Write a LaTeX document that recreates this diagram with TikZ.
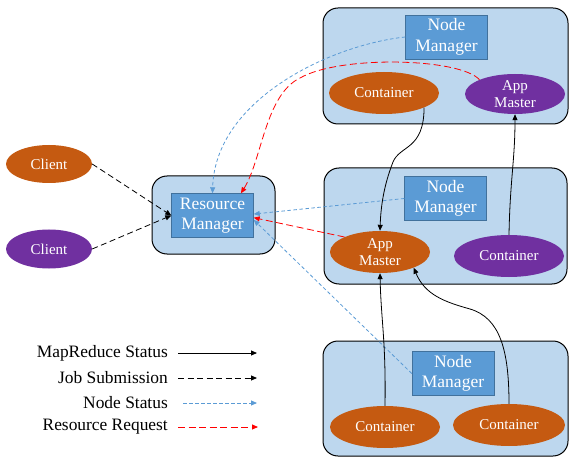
\documentclass[tikz,border=0pt]{standalone}
\usepackage{fontspec}
\setmainfont{Liberation Serif}
\usetikzlibrary{shapes.geometric,arrows.meta}
\definecolor{boxblue}{HTML}{BDD7EE}
\definecolor{nmblue}{HTML}{5B9BD5}
\definecolor{nmedge}{HTML}{41719C}
\definecolor{orangec}{HTML}{C55A11}
\definecolor{purplec}{HTML}{7030A0}

\begin{document}
\begin{tikzpicture}[x=1pt, y=-1pt]
\tikzstyle{group}=[draw, fill=boxblue, rounded corners=15pt, line width=1pt]
\tikzstyle{mgr}=[draw=nmedge, fill=nmblue, text=white, align=center,
                 font=\fontsize{17.5}{20.5}\selectfont, inner sep=0pt,
                 minimum width=82pt, minimum height=44pt]
\tikzstyle{job}=[ellipse, text=white, align=center, inner sep=0pt,
                 font=\fontsize{15}{17}\selectfont,
                 minimum width=110pt, minimum height=42pt]
\tikzstyle{orng}=[job, fill=orangec]
\tikzstyle{purp}=[job, fill=purplec]
\tikzstyle{legend}=[anchor=east, inner sep=0pt, font=\fontsize{17.4}{20}\selectfont]
\tikzstyle{mr}=[-{Triangle[length=6pt,width=5pt]}, line width=0.8pt]
\tikzstyle{js}=[mr, dash pattern=on 6pt off 3.5pt]
\tikzstyle{ns}=[mr, nmblue, dash pattern=on 3.5pt off 2.5pt]
\tikzstyle{rr}=[mr, red, dash pattern=on 7pt off 3.5pt]
\useasboundingbox (0,0) rectangle (575,462);

% group boxes
\node[group, minimum width=245pt, minimum height=116pt] (g1) at (445.5,66) {};
\node[group, minimum width=243pt, minimum height=116pt] (g2) at (445.5,226) {};
\node[group, minimum width=245pt, minimum height=115pt] (g3) at (445.5,398.5) {};
\node[group, minimum width=123pt, minimum height=78pt] (g0) at (213.5,215) {};

\node[mgr] (rm) at (212.5,215.5) {Resource\\Manager};
\node[mgr] (nm1) at (446.5,37) {Node\\Manager};
\node[mgr] (nm2) at (445.5,198.5) {Node\\Manager};
\node[mgr] (nm3) at (453,373.5) {Node\\Manager};

\node[orng, minimum width=86pt, minimum height=38pt] (cl1) at (49,164) {Client};
\node[purp, minimum width=86pt, minimum height=39pt] (cl2) at (49,249) {Client};
\node[orng] (c1) at (384,93) {Container};
\node[purp, minimum width=100pt, minimum height=40pt] (am1) at (515,94) {App\\Master};
\node[orng, minimum width=100pt] (am2) at (380,252) {App\\Master};
\node[purp] (c2) at (509,256) {Container};
\node[orng] (c3) at (385,427) {Container};
\node[orng, minimum width=112pt] (c4) at (509,425) {Container};

% legend
\node[legend] (l1) at (168,353) {MapReduce Status};
\node[legend] (l2) at (168,378) {Job Submission};
\node[legend] (l3) at (168,403) {Node Status};
\node[legend] (l4) at (168,427) {Resource Request};
\coordinate (l1a) at (178,353); \coordinate (l1b) at (257,353);
\coordinate (l2a) at (178,378); \coordinate (l2b) at (257,378);
\coordinate (l3a) at (183,403); \coordinate (l3b) at (257,403);
\coordinate (l4a) at (178,427); \coordinate (l4b) at (258,427);
\draw[mr] (l1a) -- (l1b);
\draw[js] (l2a) -- (l2b);
\draw[ns] (l3a) -- (l3b);
\draw[rr] (l4a) -- (l4b);

% job submission from the clients
\draw[js] (cl1.east) -- (rm.west);
\draw[js] (cl2.east) -- (rm.west);

% node status to the resource manager
\draw[ns] (nm1.west) .. controls (330,45) and (215,100) .. (rm.north);
\draw[ns] (nm2.west) -- (rm.2);
\draw[ns] (nm3.west) -- (rm.-6);

% resource requests, the top one arcs over the container
\draw[rr] (am1.north west) .. controls (460,58) and (340,55) .. (300,78)
          .. controls (265,95) and (262,160) .. (rm.38);
\draw[rr] (am2.north west) -- (rm.-3);

% mapreduce status, wavy lines into the app masters
\draw[mr] (c1.-20) .. controls (424,150) and (400,145) .. (393,162)
          .. controls (386,180) and (381,200) .. (am2.north);
\draw[mr] (c2.north) .. controls (510,180) and (515,160) .. (am1.south);
\draw[mr] (c3.north) .. controls (386,340) and (381,320) .. (am2.south);
\draw[mr] (c4.north) .. controls (509,350) and (500,318) .. (470,309)
          .. controls (445,302) and (425,295) .. (am2.-25);
\end{tikzpicture}
\end{document}
